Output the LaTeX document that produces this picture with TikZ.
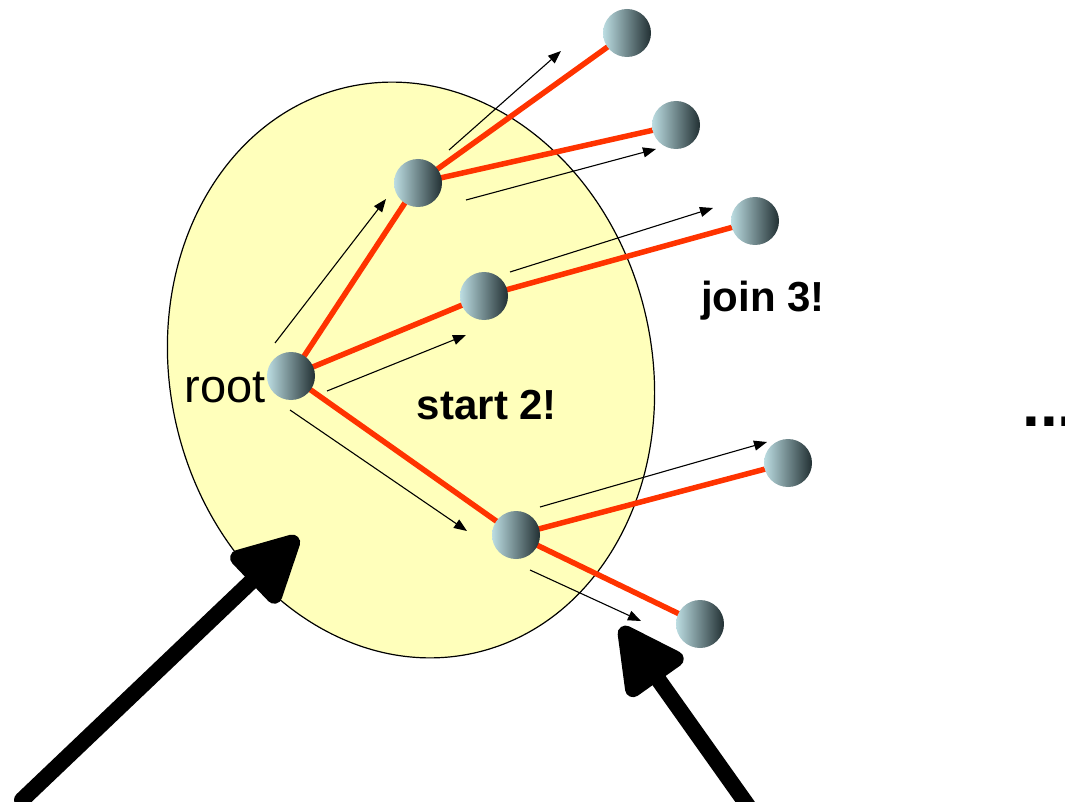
\documentclass[tikz,border=0pt]{standalone}
\usepackage{fontspec}
\setmainfont{Liberation Sans}
\usetikzlibrary{arrows.meta}
\definecolor{blobfill}{HTML}{FFFFBB}
\definecolor{edgered}{HTML}{FF3300}
\definecolor{ballL}{HTML}{BCDDE2}
\definecolor{ballR}{HTML}{223033}
\tikzset{
  ball/.style={circle, minimum size=48pt, inner sep=0pt, draw=none,
    left color=ballL, right color=ballR},
  edge/.style={edgered, line width=5.5pt},
  msg/.style={black, line width=1.1pt, -{Triangle[length=13pt,width=10pt]}},
  bigarrow/.style={black, line width=16pt, line cap=round, line join=round,
    -{Triangle[length=76pt,width=74pt,round]}},
  lbl/.style={font=\fontsize{42}{44}\selectfont\bfseries, inner sep=0pt},
}
\begin{document}
\begin{tikzpicture}[x=1pt,y=-1pt]
\useasboundingbox (0,0) rectangle (1065,802);
% the region around the root
\draw[fill=blobfill, line width=1.2pt, rotate around={12.6:(411,370)}]
  (411,370) ellipse [x radius=241, y radius=290];

% nodes of the tree
\coordinate (root) at (291,376);
\coordinate (a) at (418,183);
\coordinate (b) at (484,296);
\coordinate (c) at (516,535);
\coordinate (a1) at (627,33);
\coordinate (a2) at (676,125);
\coordinate (b1) at (755,221);
\coordinate (c1) at (788,463);
\coordinate (c2) at (700,624);

% tree edges
\draw[edge] (root) -- (a);
\draw[edge] (root) -- (b);
\draw[edge] (root) -- (c);
\draw[edge] (a) -- (a1);
\draw[edge] (a) -- (a2);
\draw[edge] (b) -- (b1);
\draw[edge] (c) -- (c1);
\draw[edge] (c) -- (c2);

\foreach \n in {root,a,b,c,a1,a2,b1,c1,c2}
  \node[ball] (n\n) at (\n) {};

% messages travelling along the edges
\coordinate (m1s) at (275,343); \coordinate (m1e) at (386,199);
\coordinate (m2s) at (327,391); \coordinate (m2e) at (466,335);
\coordinate (m3s) at (290,410); \coordinate (m3e) at (467,531);
\coordinate (m4s) at (449,150); \coordinate (m4e) at (561,51);
\coordinate (m5s) at (466,200); \coordinate (m5e) at (656,149);
\coordinate (m6s) at (510,272); \coordinate (m6e) at (713,208);
\coordinate (m7s) at (540,507); \coordinate (m7e) at (767,442);
\coordinate (m8s) at (530,570); \coordinate (m8e) at (641,621);
\foreach \i in {1,...,8}
  \draw[msg] (m\i s) -- (m\i e);

% labels
\node[font=\fontsize{47}{49}\selectfont, inner sep=0pt, anchor=base east] (rootlbl) at (266,402) {root};
\node[lbl, anchor=base] (startlbl) at (487,419) {start 2!};
\node[lbl, anchor=base] (joinlbl) at (763,311) {join 3!};
\node[font=\fontsize{64}{66}\selectfont\bfseries, inner sep=0pt, anchor=base west] (dots) at (1022,426) {...};

% large pointers
\coordinate (p1s) at (22,800); \coordinate (p1e) at (298,537);
\coordinate (p2s) at (748,806); \coordinate (p2e) at (621,627);
\draw[bigarrow] (p1s) -- (p1e);
\draw[bigarrow] (p2s) -- (p2e);
\end{tikzpicture}
\end{document}
